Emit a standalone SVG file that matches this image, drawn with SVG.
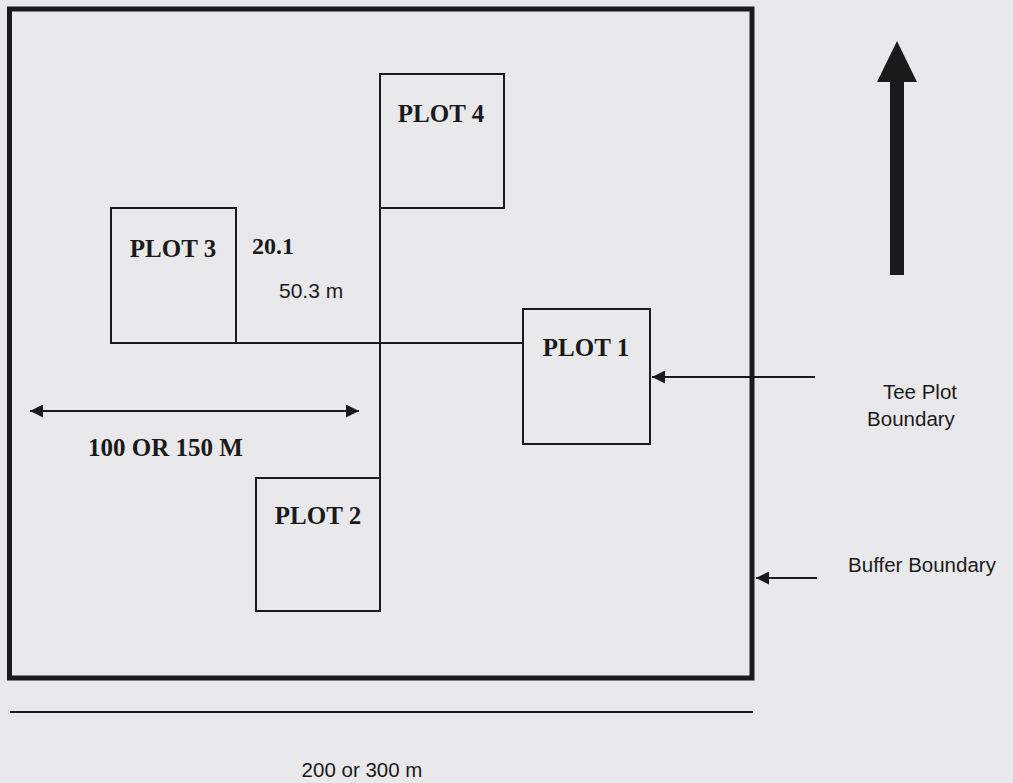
<svg xmlns="http://www.w3.org/2000/svg" width="1013" height="783" viewBox="0 0 1013 783">
<style>
.plot{fill:none;stroke:#1a1a1a;stroke-width:2}
.lbl{font-family:"Liberation Serif","Times New Roman",serif;font-weight:bold;font-size:25px;fill:#1a1a1a}
.sans{font-family:"Liberation Sans",Arial,sans-serif;font-size:20.5px;fill:#1a1a1a}
.ln{stroke:#1a1a1a;stroke-width:2;fill:none}
</style>
<defs>
<marker id="ah" viewBox="0 0 10 10" refX="10" refY="5" markerWidth="13" markerHeight="13" markerUnits="userSpaceOnUse" orient="auto-start-reverse">
<path d="M0,0 L10,5 L0,10 z" fill="#1a1a1a"/>
</marker>
</defs>
<rect width="1013" height="783" fill="#e9e9eb"/>
<g id="buffer">
<rect x="9.5" y="9" width="742.5" height="669" fill="none" stroke="#1a1a1a" stroke-width="5"/>
</g>
<g id="connectors">
<line class="ln" x1="380" y1="208" x2="380" y2="611"/>
<line class="ln" x1="111" y1="343" x2="523" y2="343"/>
<line class="ln" x1="30" y1="411" x2="359" y2="411" marker-start="url(#ah)" marker-end="url(#ah)"/>
<line class="ln" x1="815" y1="377" x2="652" y2="377" marker-end="url(#ah)"/>
<line class="ln" x1="817" y1="578" x2="756" y2="578" marker-end="url(#ah)"/>
<line class="ln" x1="10" y1="712" x2="753" y2="712"/>
</g>
<g id="plot1">
<rect class="plot" x="523" y="309" width="127" height="135"/>
<text class="lbl" x="586" y="356" text-anchor="middle">PLOT 1</text>
</g>
<g id="plot2">
<rect class="plot" x="256" y="478" width="124" height="133"/>
<text class="lbl" x="318" y="524" text-anchor="middle">PLOT 2</text>
</g>
<g id="plot3">
<rect class="plot" x="111" y="208" width="125" height="135"/>
<text class="lbl" x="173" y="257" text-anchor="middle">PLOT 3</text>
</g>
<g id="plot4">
<rect class="plot" x="380" y="74" width="124" height="134"/>
<text class="lbl" x="441" y="122" text-anchor="middle">PLOT 4</text>
</g>
<g id="labels">
<text class="lbl" x="252" y="254" style="font-size:24px">20.1</text>
<text class="sans" x="279" y="298" style="font-size:21px">50.3 m</text>
<text class="lbl" x="88" y="456">100 OR 150 M</text>
<text class="sans" x="920" y="399" text-anchor="middle">Tee Plot</text>
<text class="sans" x="911" y="426" text-anchor="middle">Boundary</text>
<text class="sans" x="922" y="572" text-anchor="middle">Buffer Boundary</text>
<text class="sans" x="362" y="777" text-anchor="middle">200 or 300 m</text>
</g>
<g id="north">
<rect x="890" y="80" width="14" height="195" fill="#1a1a1a"/>
<path d="M897,41 L917,82 L877,82 z" fill="#1a1a1a"/>
</g>
</svg>
